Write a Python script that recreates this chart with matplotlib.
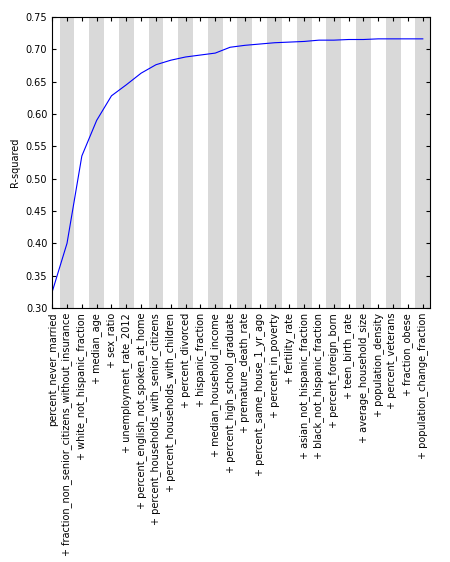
import matplotlib
matplotlib.use("Agg")
import matplotlib.pyplot as plt

features = [
    "percent_never_married",
    "+ fraction_non_senior_citizens_without_insurance",
    "+ white_not_hispanic_fraction",
    "+ median_age",
    "+ sex_ratio",
    "+ unemployment_rate_2012",
    "+ percent_english_not_spoken_at_home",
    "+ percent_households_with_senior_citizens",
    "+ percent_households_with_children",
    "+ percent_divorced",
    "+ hispanic_fraction",
    "+ median_household_income",
    "+ percent_high_school_graduate",
    "+ premature_death_rate",
    "+ percent_same_house_1_yr_ago",
    "+ percent_in_poverty",
    "+ fertility_rate",
    "+ asian_not_hispanic_fraction",
    "+ black_not_hispanic_fraction",
    "+ percent_foreign_born",
    "+ teen_birth_rate",
    "+ average_household_size",
    "+ population_density",
    "+ percent_veterans",
    "+ fraction_obese",
    "+ population_change_fraction",
]
r_squared = [0.325, 0.400, 0.535, 0.590, 0.628, 0.645, 0.663, 0.676, 0.683,
             0.688, 0.691, 0.694, 0.703, 0.706, 0.708, 0.710, 0.711, 0.712,
             0.714, 0.714, 0.715, 0.715, 0.716, 0.716, 0.716, 0.716]

fig = plt.figure(figsize=(4.5, 5.62), dpi=100, facecolor="white")
ax = fig.add_axes([0.116, 0.452, 0.84, 0.518])

x = list(range(len(features)))
for i in x:
    if i % 2 == 1:
        ax.axvspan(i - 0.5, i + 0.5, color="#d9d9d9", lw=0)
ax.plot(x, r_squared, color="blue", lw=0.8)

ax.set_xlim(0, len(features) - 0.5)
ax.set_ylim(0.30, 0.75)
ax.set_yticks([0.30 + 0.05 * k for k in range(10)])
ax.set_xticks(x)
ax.set_xticklabels(features, rotation=90, fontsize=7)
ax.tick_params(axis="y", labelsize=7)
ax.tick_params(direction="in", top=True, right=True, length=3)
ax.set_ylabel("R-squared", fontsize=7)

fig.savefig("out.png", dpi=100)
